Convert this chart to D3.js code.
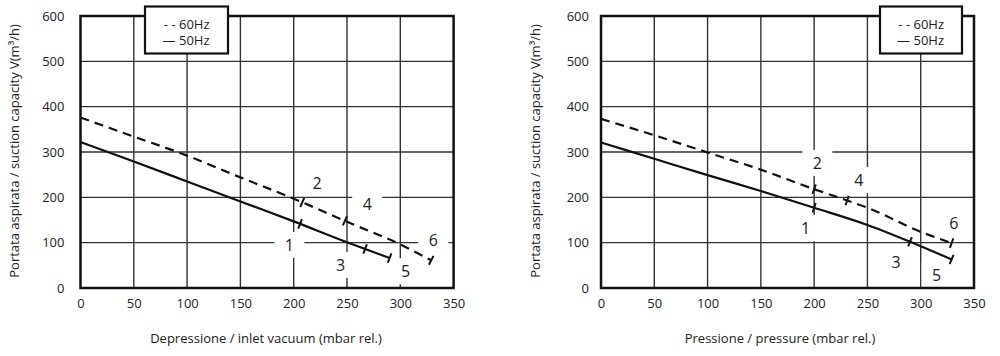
<!DOCTYPE html>
<html><head><meta charset="utf-8">
<script src="https://cdn.jsdelivr.net/npm/d3@7"></script>
<style>body{margin:0;background:#fff}svg{display:block}text{font-family:"Open Sans",sans-serif;fill:#222}</style>
</head><body><svg id="c" width="1000" height="356"></svg>
<script>
const xTicks = [0, 50, 100, 150, 200, 250, 300, 350];
const yTicks = [0, 100, 200, 300, 400, 500, 600];
const legendLabels = ["- - 60Hz", "— 50Hz"];
const yTitle = "Portata aspirata / suction capacity V(m³/h)";

// left chart: inlet vacuum
const vacTitle = "Depressione / inlet vacuum (mbar rel.)";
const vac60x = [0, 50, 100, 150, 200, 250, 300, 329];
const vac60y = [376, 334, 292, 244, 197, 146, 96, 61];
const vac50x = [0, 50, 100, 150, 200, 250, 290];
const vac50y = [322, 279, 235, 191, 147, 101, 66];
const vac60marks = [208, 248, 329];
const vac50marks = [206, 267, 290];
const vacLabelText = ["1", "2", "3", "4", "5", "6"];
const vacLabelX = [196, 222, 244, 269, 305, 331];
const vacLabelY = [95, 232, 51, 185, 37, 106];

// right chart: pressure
const presTitle = "Pressione / pressure (mbar rel.)";
const pres60x = [0, 50, 100, 150, 200, 231, 250, 300, 329];
const pres60y = [373, 337, 299, 261, 218, 193, 177, 124, 99];
const pres50x = [0, 50, 100, 150, 200, 250, 290, 329];
const pres50y = [321, 285, 249, 214, 177, 139, 102, 63];
const pres60marks = [200, 231, 329];
const pres50marks = [200, 290, 329];
const presLabelText = ["1", "2", "3", "4", "5", "6"];
const presLabelX = [192, 203, 277, 242, 315, 331];
const presLabelY = [132, 276, 57, 238, 29, 143];

const svg = d3.select("#c");

function drawChart(o) {
  const g = svg.append("g");
  const x = d3.scaleLinear().domain([0, 350]).range([o.x0, o.x1]);
  const y = d3.scaleLinear().domain([0, 600]).range([288, 16]);

  // grid
  g.selectAll(".vg").data(xTicks.slice(1, -1)).join("line")
    .attr("x1", d => x(d)).attr("x2", d => x(d)).attr("y1", y(0)).attr("y2", y(600))
    .attr("stroke", "#333").attr("stroke-width", 1.4);
  g.selectAll(".hg").data(yTicks.slice(1, -1)).join("line")
    .attr("y1", d => y(d)).attr("y2", d => y(d)).attr("x1", x(0)).attr("x2", x(350))
    .attr("stroke", "#333").attr("stroke-width", 1.4);

  // label boxes
  const labs = o.labText.map((t, i) => ({t, x: o.labX[i], y: o.labY[i]}));
  g.selectAll(".lb").data(labs).join("rect")
    .attr("x", d => x(d.x) - 15).attr("y", d => y(d.y) - 13)
    .attr("width", 30).attr("height", 26).attr("fill", "#fff");

  // border
  g.append("rect").attr("x", x(0)).attr("y", y(600))
    .attr("width", x(350) - x(0)).attr("height", y(0) - y(600))
    .attr("fill", "none").attr("stroke", "#111").attr("stroke-width", 2.5);

  // axes tick labels
  const xa = d3.axisBottom(x).tickValues(xTicks).tickSize(0).tickPadding(11);
  const ga = g.append("g").attr("transform", `translate(0,${y(0)})`).call(xa);
  ga.select(".domain").remove();
  ga.selectAll("text").style("font-size", "13px").style("font-family", '"Open Sans",sans-serif').attr("fill", "#222");
  const ya = d3.axisLeft(y).tickValues(yTicks).tickSize(0).tickPadding(o.ypad);
  const gy = g.append("g").attr("transform", `translate(${x(0)},0)`).call(ya);
  gy.select(".domain").remove();
  gy.selectAll("text").style("font-size", "13px").style("font-family", '"Open Sans",sans-serif').attr("fill", "#222");

  // titles
  g.append("text").attr("x", o.titleX).attr("y", 343).attr("text-anchor", "middle")
    .style("font-size", "13px").text(o.title);
  g.append("text").attr("transform", `translate(${o.yTitleX},151) rotate(-90)`)
    .attr("text-anchor", "middle").style("font-size", "13px").text(yTitle);

  // curves
  const line = d3.line().x(d => x(d[0])).y(d => y(d[1])).curve(d3.curveMonotoneX);
  const d60 = o.x60.map((v, i) => [v, o.y60[i]]);
  const d50 = o.x50.map((v, i) => [v, o.y50[i]]);
  g.append("path").attr("d", line(d60)).attr("fill", "none").attr("stroke", "#111")
    .attr("stroke-width", 2.2).attr("stroke-dasharray", "9,6");
  g.append("path").attr("d", line(d50)).attr("fill", "none").attr("stroke", "#111")
    .attr("stroke-width", 2.2);

  // tick marks perpendicular to curves
  function marks(data, xs) {
    const xsD = data.map(d => d[0]);
    xs.forEach(mx => {
      let i = d3.bisectLeft(xsD, mx);
      if (i <= 0) i = 1;
      if (i >= data.length) i = data.length - 1;
      const a = data[i - 1], b = data[i];
      const t = (mx - a[0]) / (b[0] - a[0]);
      const my = a[1] + t * (b[1] - a[1]);
      const px = x(mx), py = y(my);
      const dx = x(b[0]) - x(a[0]), dy = y(b[1]) - y(a[1]);
      const L = Math.hypot(dx, dy);
      const nx = -dy / L, ny = dx / L;
      g.append("line").attr("x1", px - nx * 5).attr("y1", py - ny * 5)
        .attr("x2", px + nx * 5).attr("y2", py + ny * 5)
        .attr("stroke", "#111").attr("stroke-width", 2);
    });
  }
  marks(d60, o.m60);
  marks(d50, o.m50);

  // labels
  g.selectAll(".lt").data(labs).join("text")
    .attr("x", d => x(d.x)).attr("y", d => y(d.y)).attr("dy", "0.36em")
    .attr("text-anchor", "middle").style("font-size", "16px").text(d => d.t);

  // legend
  const lg = g.append("g");
  lg.append("rect").attr("x", o.lx).attr("y", 6.5).attr("width", o.lw).attr("height", 47)
    .attr("fill", "#fff").attr("stroke", "#111").attr("stroke-width", 2.2);
  legendLabels.forEach((t, i) => {
    lg.append("text").attr("x", o.lx + o.lw / 2 + 23).attr("y", 24 + i * 16).attr("dy", "0.35em")
      .attr("text-anchor", "end").style("font-size", "13px").text(t);
  });
}

drawChart({x0: 80.5, x1: 453.6, x60: vac60x, y60: vac60y, x50: vac50x, y50: vac50y,
  m60: vac60marks, m50: vac50marks, labText: vacLabelText, labX: vacLabelX, labY: vacLabelY,
  title: vacTitle, titleX: 266, yTitleX: 19, ypad: 16, lx: 145, lw: 83});
drawChart({x0: 601, x1: 974, x60: pres60x, y60: pres60y, x50: pres50x, y50: pres50y,
  m60: pres60marks, m50: pres50marks, labText: presLabelText, labX: presLabelX, labY: presLabelY,
  title: presTitle, titleX: 780, yTitleX: 540, ypad: 12, lx: 880, lw: 82});
</script></body></html>
